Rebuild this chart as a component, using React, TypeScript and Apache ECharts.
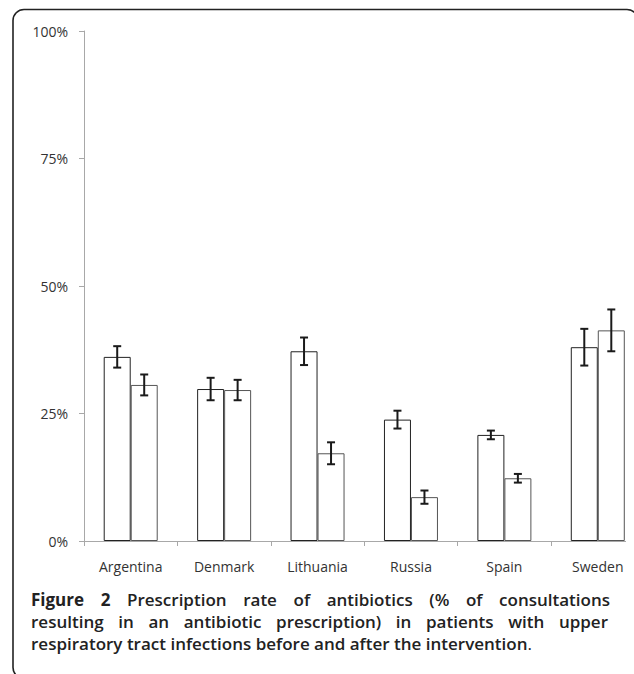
import React, { useEffect, useRef } from "react";
import * as echarts from "echarts";

const categories = ["Argentina", "Denmark", "Lithuania", "Russia", "Spain", "Sweden"];
const beforeValues = [36.1, 29.8, 37.2, 23.8, 20.8, 38.0];
const afterValues = [30.6, 29.6, 17.2, 8.6, 12.3, 41.3];
const beforeErrors = [2.1, 2.2, 2.7, 1.75, 0.85, 3.6];
const afterErrors = [2.05, 2.0, 2.15, 1.3, 0.85, 4.1];
const yTicks = [0, 25, 50, 75, 100];
const captionLabel = "Figure 2";
const captionLines = [
  "Prescription rate of antibiotics (% of consultations",
  "resulting in an antibiotic prescription) in patients with upper",
  "respiratory tract infections before and after the intervention",
];

const BAR_W = 27;
const FONT = "'Open Sans', sans-serif";
const CAP_SIZE = 17;

function errorSeries(name: string, values: number[], errs: number[], offset: number) {
  return {
    type: "custom",
    name,
    z: 10,
    data: values.map((v, i) => [i, v, errs[i]]),
    encode: { x: 0, y: 1 },
    renderItem: (params: any, api: any) => {
      const idx = api.value(0);
      const v = api.value(1);
      const e = api.value(2);
      const top = api.coord([idx, v + e]);
      const bot = api.coord([idx, v - e]);
      const x = top[0] + offset;
      const cap = 4;
      const style = { stroke: "#1a1a1a", lineWidth: 2 };
      return {
        type: "group",
        children: [
          { type: "line", shape: { x1: x, y1: top[1], x2: x, y2: bot[1] }, style },
          { type: "line", shape: { x1: x - cap, y1: top[1], x2: x + cap, y2: top[1] }, style },
          { type: "line", shape: { x1: x - cap, y1: bot[1], x2: x + cap, y2: bot[1] }, style },
        ],
      };
    },
  };
}

function measure(text: string, weight: number) {
  const c = document.createElement("canvas").getContext("2d");
  if (!c) return text.length * CAP_SIZE * 0.55;
  c.font = `${weight} ${CAP_SIZE}px ${FONT}`;
  return c.measureText(text).width;
}

function justifiedLine(words: { t: string; w: number }[], x0: number, width: number, y: number) {
  const widths = words.map((wd) => measure(wd.t, wd.w));
  const sum = widths.reduce((a, b) => a + b, 0);
  const gap = (width - sum) / (words.length - 1);
  const out: any[] = [];
  let x = x0;
  words.forEach((wd, i) => {
    out.push({
      type: "text",
      z: 101,
      x,
      y,
      style: {
        text: wd.t,
        verticalAlign: "middle",
        fontFamily: FONT,
        fontSize: CAP_SIZE,
        fontWeight: wd.w,
        fill: "#222",
      },
    });
    x += widths[i] + gap;
  });
  return out;
}

export default function App() {
  const ref = useRef<HTMLDivElement>(null);
  useEffect(() => {
    document.body.style.margin = "0";
    if (!ref.current) return;
    const chart = echarts.init(ref.current, undefined, { renderer: "svg" });
    const line1Words = [
      ...captionLabel.split(" ").map((t) => ({ t, w: 700 })),
      ...captionLines[0].split(" ").map((t) => ({ t, w: 600 })),
    ];
    const line2Words = captionLines[1].split(" ").map((t) => ({ t, w: 600 }));
    chart.setOption({
      animation: false,
      backgroundColor: "#ffffff",
      grid: {
        left: 84,
        top: 31,
        bottom: 133,
        right: -10.5,
        containLabel: false,
        outerBoundsMode: "none",
      },
      xAxis: {
        type: "category",
        data: categories,
        axisLine: { lineStyle: { color: "#a8a8a8", width: 1 } },
        axisTick: { show: true, length: 5, lineStyle: { color: "#a8a8a8" } },
        axisLabel: { color: "#333", fontFamily: FONT, fontSize: 14, margin: 18 },
      },
      yAxis: {
        type: "value",
        min: 0,
        max: 100,
        interval: 25,
        splitLine: { show: false },
        axisLine: { show: true, lineStyle: { color: "#a8a8a8", width: 1 } },
        axisTick: { show: true, length: 5, lineStyle: { color: "#a8a8a8" } },
        axisLabel: {
          color: "#333",
          fontFamily: FONT,
          fontSize: 14,
          margin: 16,
          formatter: (v: number) => (yTicks.includes(v) ? v + "%" : ""),
        },
      },
      series: [
        {
          type: "bar",
          name: "Before",
          data: beforeValues,
          barWidth: BAR_W,
          barGap: "0%",
          itemStyle: { color: "#ffffff", borderColor: "#222", borderWidth: 1 },
        },
        {
          type: "bar",
          name: "After",
          data: afterValues,
          barWidth: BAR_W,
          barGap: "0%",
          itemStyle: { color: "#ffffff", borderColor: "#555", borderWidth: 1 },
        },
        errorSeries("Before error", beforeValues, beforeErrors, -BAR_W / 2),
        errorSeries("After error", afterValues, afterErrors, BAR_W / 2),
      ],
      graphic: [
        {
          type: "rect",
          z: 100,
          shape: { x: 626, y: 536, width: 10, height: 12 },
          style: { fill: "#ffffff" },
        },
        {
          type: "rect",
          z: 101,
          shape: { x: 13, y: 9.5, width: 625, height: 669, r: 11 },
          style: { fill: "none", stroke: "#222", lineWidth: 1.6 },
        },
        ...justifiedLine(line1Words, 31, 579, 599),
        ...justifiedLine(line2Words, 31, 577, 621),
        {
          type: "text",
          z: 101,
          x: 31,
          y: 643,
          style: {
            text: "{b|" + captionLines[2] + "}{c|.}",
            verticalAlign: "middle",
            rich: {
              b: { fontFamily: FONT, fontSize: CAP_SIZE, fontWeight: 600, fill: "#222" },
              c: { fontFamily: FONT, fontSize: CAP_SIZE, fontWeight: 400, fill: "#222" },
            },
          },
        },
      ],
    });
    return () => chart.dispose();
  }, []);
  return <div ref={ref} style={{ width: 634, height: 674 }} />;
}
